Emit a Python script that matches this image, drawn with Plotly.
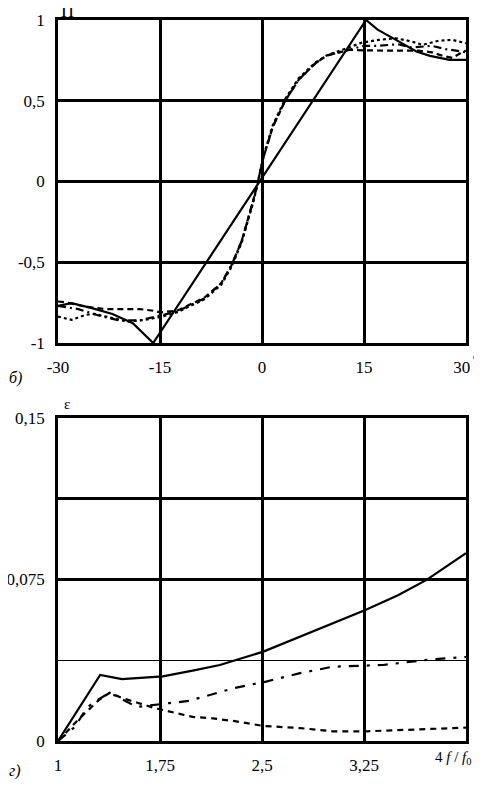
import plotly.graph_objects as go

# ---------------- Top panel (б): П vs angle ----------------
theta_solid = [-30, -28, -25, -22, -19, -16, 15.3, 17, 19.7, 22.7, 24.7, 27.6, 30]
p_solid = [-0.77, -0.753, -0.784, -0.82, -0.877, -1.0, 1.0, 0.94, 0.877, 0.805, 0.778, 0.753, 0.753]

theta_dash = [-30, -28.6, -26, -23, -20, -18, -16, -15, -12.5, -10, -8.5, -6, -4.5, -3, -2, -1.3,
              -0.6, 0.15, 1.6, 3.4, 5.4, 7.8, 9.5, 12.8, 15, 17, 20, 23, 25, 26.6, 28, 29.4, 30]
p_dash = [-0.743, -0.75, -0.775, -0.79, -0.79, -0.79, -0.8, -0.81, -0.8, -0.75, -0.72, -0.63, -0.52, -0.37,
          -0.23, -0.12, 0.0, 0.14, 0.34, 0.5, 0.63, 0.73, 0.78, 0.815, 0.812, 0.81, 0.81, 0.81, 0.8,
          0.778, 0.765, 0.8, 0.81]

theta_dot = [-30, -28, -26, -24.6, -22, -19.7, -17.2, -14.7, -12.5, -10, -8.5, -6, -4.5, -3, -2, -1.3,
             -0.6, 0.15, 1.6, 3.4, 5.4, 7.8, 9.5, 12.8, 14.7, 17.2, 19.7, 22, 23.6, 26, 28, 30]
p_dot = [-0.836, -0.857, -0.826, -0.82, -0.846, -0.867, -0.857, -0.836, -0.81, -0.76, -0.73, -0.64, -0.53, -0.38,
         -0.24, -0.13, -0.01, 0.15, 0.35, 0.51, 0.64, 0.735, 0.78, 0.83, 0.86, 0.877, 0.887, 0.867, 0.846,
         0.872, 0.877, 0.856]

theta_dashdot = [-30, -27, -24, -21, -18, -15, -12.5, -10, -8.5, -6, -4.5, -3, -2, -1.3,
                 -0.6, 0.15, 1.6, 3.4, 5.4, 7.8, 9.5, 12.8, 15, 17, 20, 22, 25, 27, 30]
p_dashdot = [-0.77, -0.79, -0.83, -0.86, -0.86, -0.83, -0.805, -0.755, -0.725, -0.63, -0.52, -0.37, -0.23, -0.12,
             0.0, 0.14, 0.34, 0.5, 0.63, 0.73, 0.78, 0.815, 0.84, 0.84, 0.85, 0.83, 0.84, 0.82, 0.8]

top_xticks = [-30, -15, 0, 15, 30]
top_xtext = ["-30", "-15", "0", "15", "30\u2002"]
top_yticks = [-1, -0.5, 0, 0.5, 1]
top_ytext = ["-1", "-0,5", "0", "0,5", "1"]

# ---------------- Bottom panel (г): ε vs f/f0 ----------------
f_solid = [1, 1.31, 1.47, 1.77, 1.99, 2.19, 2.51, 2.7, 2.9, 3.26, 3.5, 3.71, 4.0]
e_solid = [0, 0.0307, 0.0287, 0.0300, 0.0327, 0.0353, 0.0415, 0.0463, 0.0516, 0.0608, 0.0677, 0.0748, 0.0872]

f_dashdot = [1, 1.125, 1.21, 1.27, 1.38, 1.58, 1.82, 1.96, 2.29, 2.53, 2.78, 3.02, 3.39, 3.76, 4.0]
e_dashdot = [0, 0.0066, 0.0153, 0.0183, 0.0224, 0.0158, 0.0176, 0.0186, 0.0245, 0.0276, 0.0315, 0.0345,
             0.0353, 0.038, 0.039]

f_dash = [1, 1.15, 1.3, 1.38, 1.47, 1.71, 1.99, 2.14, 2.3, 2.51, 2.78, 3.02, 3.27, 3.64, 4.0]
e_dash = [0, 0.01, 0.019, 0.0224, 0.020, 0.0153, 0.0112, 0.0105, 0.0092, 0.007, 0.006, 0.0045, 0.0045,
          0.0054, 0.0062]

bot_xticks = [1, 1.75, 2.5, 3.25, 4]
bot_xtext = ["1", "1,75", "2,5", "3,25", " "]
bot_yticks = [0, 0.075, 0.1125, 0.15]
bot_ytext = ["0", "0,075", " ", "0,15"]
bot_minor_y = [0.0375]

FONT = "Liberation Serif, 'Times New Roman', 'DejaVu Serif', serif"
BLACK = "#000000"

fig = go.Figure()

def add(x, y, dash, xa, ya, width=2.2):
    fig.add_trace(go.Scatter(x=x, y=y, mode="lines", xaxis=xa, yaxis=ya,
                             line=dict(color=BLACK, width=width, dash=dash),
                             showlegend=False, hoverinfo="skip"))

add(theta_dot, p_dot, "dot", "x", "y")
add(theta_dash, p_dash, "6px,4px", "x", "y")
add(theta_dashdot, p_dashdot, "8px,4px,2px,4px", "x", "y")
add(theta_solid, p_solid, "solid", "x", "y")

add(f_dash, e_dash, "6px,5px", "x2", "y2")
add(f_dashdot, e_dashdot, "10px,8px,3px,8px", "x2", "y2")
add(f_solid, e_solid, "solid", "x2", "y2")

axis_common = dict(showline=True, mirror=True, linecolor=BLACK, linewidth=2.5,
                   showgrid=True, gridcolor=BLACK, gridwidth=2.5, zeroline=False,
                   ticks="", tickfont=dict(family=FONT, size=17, color=BLACK),
                   ticklabelstandoff=7, fixedrange=True, automargin=False)

# page body has an 8px margin, so the figure is sized/offset to compensate
fig.update_layout(
    width=474, height=778,
    margin=dict(l=50, r=16, t=12, b=45),
    paper_bgcolor="white", plot_bgcolor="white",
    font=dict(family=FONT, size=16, color=BLACK),
    xaxis=dict(domain=[0, 1], anchor="y", range=[-30, 30], tickmode="array",
               tickvals=top_xticks, ticktext=top_xtext, **axis_common),
    yaxis=dict(domain=[0.552, 1], anchor="x", range=[-1, 1], tickmode="array",
               tickvals=top_yticks, ticktext=top_ytext, **axis_common),
    xaxis2=dict(domain=[0, 1], anchor="y2", range=[1, 4], tickmode="array",
                tickvals=bot_xticks, ticktext=bot_xtext, **axis_common),
    yaxis2=dict(domain=[0, 0.448], anchor="x2", range=[0, 0.15], tickmode="array",
                tickvals=bot_yticks, ticktext=bot_ytext,
                minor=dict(tickvals=bot_minor_y, showgrid=True, gridcolor=BLACK, gridwidth=1.2, ticks=""),
                **axis_common),
)

ann = [
    dict(text="П", x=0.0245, y=1.013, size=18, xanchor="center"),
    dict(text="o", x=1.024, y=0.533, size=10, xanchor="center"),
    dict(text="ε", x=0.022, y=0.468, size=15, xanchor="center"),
    dict(text="<i>б)</i>", x=-0.105, y=0.503, size=16, xanchor="center"),
    dict(text="<i>г)</i>", x=-0.105, y=-0.041, size=16, xanchor="center"),
    dict(text="4 <i>f</i> / <i>f</i><sub>0</sub>", x=1.02, y=-0.0236, size=15, xanchor="right"),
]
for a in ann:
    fig.add_annotation(text=a["text"], x=a["x"], y=a["y"], xref="paper", yref="paper",
                       xanchor=a["xanchor"], yanchor="middle", showarrow=False,
                       font=dict(family=FONT, size=a["size"], color=BLACK))

fig.write_html("out.html")
